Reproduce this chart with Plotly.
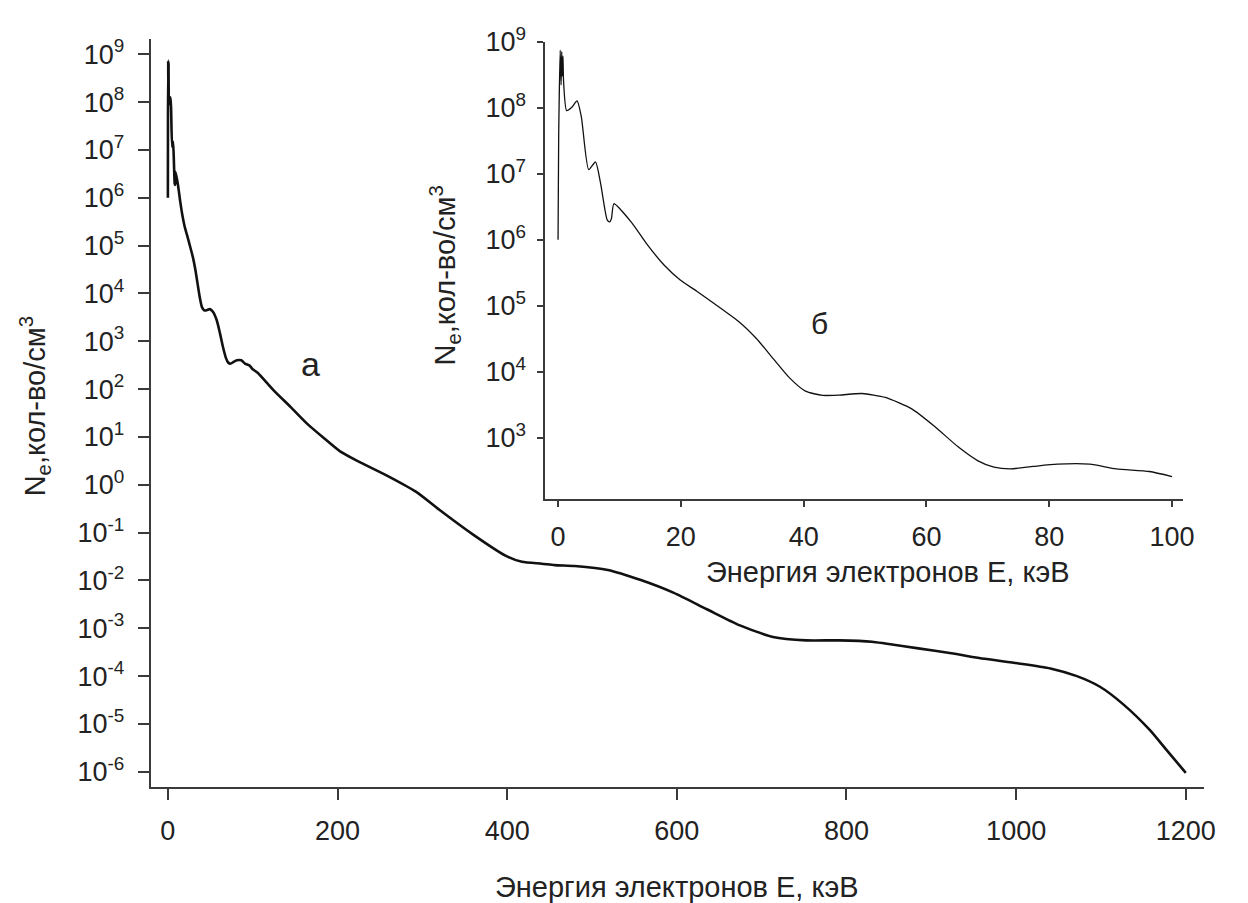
import plotly.graph_objects as go

# Low-energy part of the spectrum (0-100 keV), shared by the main plot and the inset
energy_low = [0.0, 0.1, 0.35, 0.5, 0.6, 0.7, 0.8, 0.9, 1.4, 2.2, 3.1, 3.8, 5.0, 6.1, 6.9,
              8.0, 8.4, 8.7, 9.1, 11.9, 14.5, 17.3, 19.9, 22.6, 25.3, 29.6, 32.3, 35.0,
              37.7, 40.3, 43.1, 45.8, 49.5, 53.3, 57.6, 61.3, 65.1, 68.4, 71.0, 73.7,
              77.4, 81.3, 86.6, 90.9, 96.3, 100.0]
density_low = [1.0e6, 3.4e7, 7.4e8, 2.2e8, 7.0e8, 3.0e8, 6.0e8, 2.5e8, 9.0e7, 1.0e8, 1.26e8,
               7.2e7, 1.15e7, 1.5e7, 7.4e6, 2.0e6, 1.86e6, 2.1e6, 3.5e6, 1.86e6, 8.5e5,
               4.1e5, 2.45e5, 1.66e5, 1.1e5, 5.6e4, 3.2e4, 1.6e4, 8.1e3, 5.1e3, 4.4e3,
               4.45e3, 4.7e3, 4.1e3, 2.75e3, 1.5e3, 7.4e2, 4.5e2, 3.6e2, 3.4e2, 3.7e2,
               4.0e2, 4.0e2, 3.4e2, 3.1e2, 2.6e2]

# High-energy tail (100-1200 keV), main plot only
energy_high = [105.8, 125.0, 144.8, 164.0, 183.8, 203.0, 222.7, 261.6, 292.8, 320.0, 359.0,
               398.0, 417.4, 440.8, 456.0, 479.7, 518.6, 557.6, 596.5, 635.4, 674.3, 713.3,
               752.2, 791.2, 830.0, 845.7, 884.7, 923.6, 962.5, 1001.5, 1040.4, 1071.6,
               1098.8, 1126.0, 1157.2, 1176.7, 1200.0]
density_high = [2.2e2, 93, 42, 19, 9.5, 5.0, 3.2, 1.45, 0.71, 0.30, 0.093, 0.033, 0.0245,
                0.0224, 0.0209, 0.020, 0.0166, 0.0102, 0.0055, 0.0025, 1.15e-3, 6.6e-4,
                5.6e-4, 5.6e-4, 5.25e-4, 4.8e-4, 3.8e-4, 3.0e-4, 2.3e-4, 1.86e-4, 1.45e-4,
                1.0e-4, 6.0e-5, 2.6e-5, 7.6e-6, 2.95e-6, 9.5e-7]

main_x_ticks = [0, 200, 400, 600, 800, 1000, 1200]
main_y_exponents = list(range(-6, 10))
inset_x_ticks = [0, 20, 40, 60, 80, 100]
inset_y_exponents = list(range(3, 10))

x_title = "Энергия электронов Е, кэВ"
y_title = "N<sub>e</sub>,кол-во/см<sup>3</sup>"

FONT = "Liberation Sans, Arial, sans-serif"
INK = "#222222"
AXIS = "#3a3a3a"

W, H = 1248, 903


def px_x(v):
    return v / W


def px_y(v):
    return (H - v) / H


fig = go.Figure()

fig.add_trace(go.Scatter(
    x=energy_low + energy_high, y=density_low + density_high,
    mode="lines", line=dict(color="#111111", width=2.6, shape="spline", smoothing=0.6),
    xaxis="x", yaxis="y", showlegend=False, hoverinfo="skip"))

fig.add_trace(go.Scatter(
    x=energy_low, y=density_low,
    mode="lines", line=dict(color="#111111", width=1.3, shape="spline", smoothing=0.6),
    xaxis="x2", yaxis="y2", showlegend=False, hoverinfo="skip"))


def sci(e):
    return "10<sup>%d</sup>" % e


tick_font = dict(family=FONT, size=27, color=INK)

fig.update_layout(
    width=W, height=H,
    margin=dict(l=0, r=0, t=0, b=0),
    paper_bgcolor="white", plot_bgcolor="rgba(0,0,0,0)",
    font=dict(family=FONT, color=INK),
    xaxis=dict(
        domain=[px_x(152), px_x(1215)], range=[-20.3, 1221.8],
        showgrid=False, zeroline=False, showline=True, linecolor=AXIS, linewidth=2,
        ticks="outside", ticklen=11, tickwidth=2, tickcolor=AXIS,
        tickvals=main_x_ticks, ticktext=[str(v) for v in main_x_ticks],
        tickfont=tick_font, ticklabelstandoff=8, anchor="y"),
    yaxis=dict(
        domain=[px_y(784), px_y(20)], type="log", range=[-6.307, 9.327],
        showgrid=False, zeroline=False, showline=True, linecolor=AXIS, linewidth=2,
        ticks="outside", ticklen=11, tickwidth=2, tickcolor=AXIS,
        tickvals=[10.0 ** e for e in main_y_exponents],
        ticktext=[sci(e) for e in main_y_exponents],
        tickfont=tick_font, ticklabelstandoff=8, anchor="x"),
    xaxis2=dict(
        domain=[px_x(550), px_x(1194)], range=[-2.1, 101.86],
        showgrid=False, zeroline=False, showline=True, linecolor=AXIS, linewidth=1.6,
        ticks="outside", ticklen=7, tickwidth=1.6, tickcolor=AXIS,
        tickvals=inset_x_ticks, ticktext=[str(v) for v in inset_x_ticks],
        tickfont=tick_font, ticklabelstandoff=6, anchor="y2"),
    yaxis2=dict(
        domain=[px_y(490), px_y(23)], type="log", range=[2.08, 9.0],
        showgrid=False, zeroline=False, showline=True, linecolor=AXIS, linewidth=1.6,
        ticks="outside", ticklen=6, tickwidth=1.6, tickcolor=AXIS,
        tickvals=[10.0 ** e for e in inset_y_exponents],
        ticktext=[sci(e) for e in inset_y_exponents],
        tickfont=tick_font, ticklabelstandoff=6, anchor="x2"),
)

title_font = dict(family=FONT, size=29, color=INK)

fig.add_annotation(text=x_title, xref="paper", yref="paper",
                   x=px_x(683), y=px_y(887), xanchor="center", yanchor="middle",
                   showarrow=False, font=title_font)
fig.add_annotation(text=y_title, xref="paper", yref="paper", textangle=-90,
                   x=px_x(35), y=px_y(396), xanchor="center", yanchor="middle",
                   showarrow=False, font=title_font)
fig.add_annotation(text=x_title, xref="paper", yref="paper",
                   x=px_x(896), y=px_y(565), xanchor="center", yanchor="middle",
                   showarrow=False, font=title_font)
fig.add_annotation(text=y_title, xref="paper", yref="paper", textangle=-90,
                   x=px_x(449), y=px_y(262), xanchor="center", yanchor="middle",
                   showarrow=False, font=title_font)

# Panel letters
fig.add_annotation(text="а", xref="paper", yref="paper",
                   x=px_x(313), y=px_y(352), xanchor="center", yanchor="middle",
                   showarrow=False, font=dict(family=FONT, size=34, color=INK))
fig.add_annotation(text="б", xref="paper", yref="paper",
                   x=px_x(827), y=px_y(311), xanchor="center", yanchor="middle",
                   showarrow=False, font=dict(family=FONT, size=30, color=INK))

fig.write_html("out.html")
